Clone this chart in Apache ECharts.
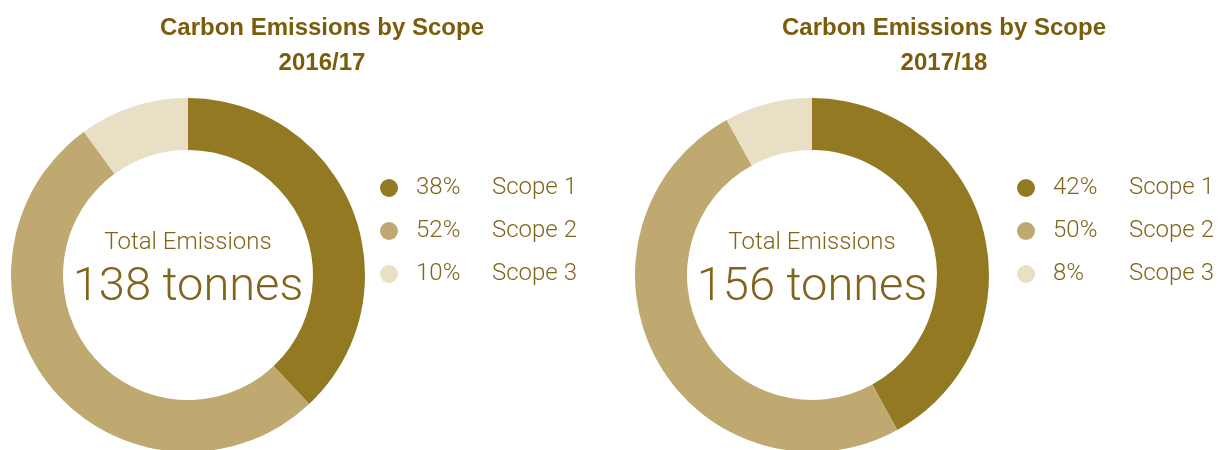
<!DOCTYPE html>
<html>
<head>
<meta charset="utf-8">
<script src="https://cdn.jsdelivr.net/npm/echarts@6/dist/echarts.min.js"></script>
<style>
  html, body { margin: 0; padding: 0; background: #ffffff; }
  #main { width: 1223px; height: 450px; }
</style>
</head>
<body>
<div id="main"></div>
<script>
// ---- data ----
const scopes = ['Scope 1', 'Scope 2', 'Scope 3'];
const periods = ['2016/17', '2017/18'];
const shares2016 = [38, 52, 10];   // % of total
const shares2017 = [42, 50, 8];    // % of total
const totals = [138, 156];         // tonnes
const chartTitle = 'Carbon Emissions by Scope';
const centerLabel = 'Total Emissions';

// ---- styles ----
const sliceColors = ['#937a22', '#bfa970', '#e9dfc5'];
const titleColor = '#7a5d0a';
const textColor = '#80651a';
const fontFamily = 'Roboto, "Liberation Sans", Arial, sans-serif';

const shares = [shares2016, shares2017];
const centers = [[188, 275], [812, 275]];
const titleX = [322, 944];
const legendX = [380, 1017];

function sliceName(p, s) { return p + ' ' + s; }
const lookup = {};
periods.forEach((p, i) => scopes.forEach((s, j) => {
  lookup[sliceName(p, s)] = { pct: shares[i][j] + '%', scope: s };
}));

const titles = [];
const series = [];
const legends = [];
periods.forEach((p, i) => {
  titles.push({
    text: chartTitle + '\n' + p,
    left: titleX[i], top: 11, textAlign: 'center', padding: 0,
    textStyle: { fontFamily: '"Liberation Sans", Arial, sans-serif', fontWeight: 'bold', fontSize: 24, lineHeight: 35, color: titleColor }
  });
  titles.push({
    text: '{a|' + centerLabel + '}\n{b|' + totals[i] + ' tonnes}',
    left: centers[i][0], top: 229, textAlign: 'center', padding: 0,
    textStyle: {
      rich: {
        a: { fontFamily, fontWeight: 300, fontSize: 24, lineHeight: 28, color: textColor, align: 'center' },
        b: { fontFamily, fontWeight: 300, fontSize: 47, lineHeight: 62, color: textColor, align: 'center' }
      }
    }
  });
  series.push({
    type: 'pie',
    center: centers[i],
    radius: [125, 177],
    startAngle: 90,
    clockwise: true,
    silent: true,
    label: { show: false },
    labelLine: { show: false },
    itemStyle: { borderWidth: 0 },
    data: scopes.map((s, j) => ({ name: sliceName(p, s), value: shares[i][j], itemStyle: { color: sliceColors[j] } }))
  });
  legends.push({
    orient: 'vertical',
    left: legendX[i], top: 176,
    padding: 0,
    itemWidth: 18, itemHeight: 18, itemGap: 19,
    icon: 'circle',
    selectedMode: false,
    data: scopes.map(s => sliceName(p, s)),
    formatter: name => '{g|}{p|' + lookup[name].pct + '}{s|' + lookup[name].scope + '}',
    textStyle: {
      rich: {
        g: { width: 13 },
        p: { width: 76, fontFamily, fontWeight: 300, fontSize: 24, color: textColor },
        s: { fontFamily, fontWeight: 300, fontSize: 24, color: textColor }
      }
    }
  });
});

const chart = echarts.init(document.getElementById('main'), null, { renderer: 'canvas' });
chart.setOption({
  animation: false,
  backgroundColor: '#ffffff',
  title: titles,
  legend: legends,
  series: series
});
</script>
</body>
</html>
